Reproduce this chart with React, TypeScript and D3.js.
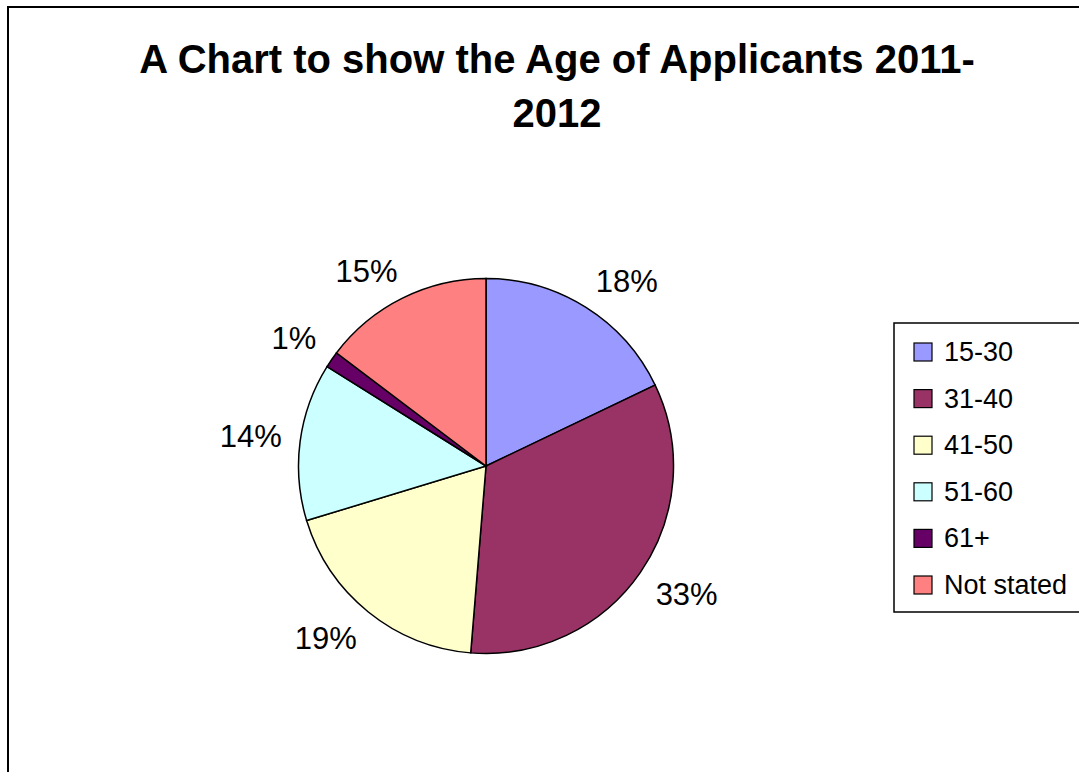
import React from "react";
import * as d3 from "d3";

const categories = ["15-30", "31-40", "41-50", "51-60", "61+", "Not stated"];
const values = [17.9, 33.4, 19.0, 13.6, 1.4, 14.7];
const labels = ["18%", "33%", "19%", "14%", "1%", "15%"];
const colors = ["#9999FF", "#993366", "#FFFFCC", "#CCFFFF", "#660066", "#FF8080"];
const titleLines = ["A Chart to show the Age of Applicants 2011-", "2012"];

const W = 1079;
const H = 772;
const cx = 486;
const cy = 466;
const R = 187.5;
const labelR = 206;
const labelFont = 31;

function textWidth(s: string, fs: number) {
  let w = 0;
  for (const ch of s) w += ch === "%" ? 0.889 : 0.556;
  return w * fs;
}

export default function App() {
  const pie = d3.pie<number>().sort(null).value((d) => d)(values);
  const arc = d3.arc<d3.PieArcDatum<number>>().innerRadius(0).outerRadius(R);
  const font = "'Liberation Sans', Arial, sans-serif";
  const clamp = (v: number) => Math.max(-1, Math.min(1, v));
  return (
    <svg
      width={W}
      height={H}
      style={{ position: "absolute", left: 0, top: 0, background: "#fff" }}
      fontFamily={font}
    >
      <rect x={8} y={7} width={W + 20} height={H + 20} fill="#fff" stroke="#000" strokeWidth={2} />
      {titleLines.map((t, i) => (
        <text key={i} x={557} y={73 + i * 54} textAnchor="middle" fontSize={40} fontWeight="bold">
          {t}
        </text>
      ))}
      <g transform={`translate(${cx},${cy})`}>
        {pie.map((p, i) => (
          <path key={i} d={arc(p) || ""} fill={colors[i]} stroke="#000" strokeWidth={1.5} />
        ))}
        {pie.map((p, i) => {
          const a = (p.startAngle + p.endAngle) / 2;
          const s = Math.sin(a);
          const c = Math.cos(a);
          const hw = textWidth(labels[i], labelFont) / 2;
          const hh = labelFont * 0.716 / 2;
          const x = s * labelR + clamp(s * 2) * hw;
          const y = -c * labelR - clamp(c * 2) * hh;
          return (
            <text key={i} x={x} y={y + hh} textAnchor="middle" fontSize={labelFont}>
              {labels[i]}
            </text>
          );
        })}
      </g>
      <rect x={894} y={323} width={300} height={289} fill="#fff" stroke="#000" strokeWidth={1.5} />
      {categories.map((c, i) => {
        const yc = 352 + i * 46.6;
        return (
          <g key={c}>
            <rect x={914} y={yc - 9} width={18} height={18} fill={colors[i]} stroke="#000" strokeWidth={1.2} />
            <text x={944} y={yc + 9} fontSize={27}>
              {c}
            </text>
          </g>
        );
      })}
    </svg>
  );
}
